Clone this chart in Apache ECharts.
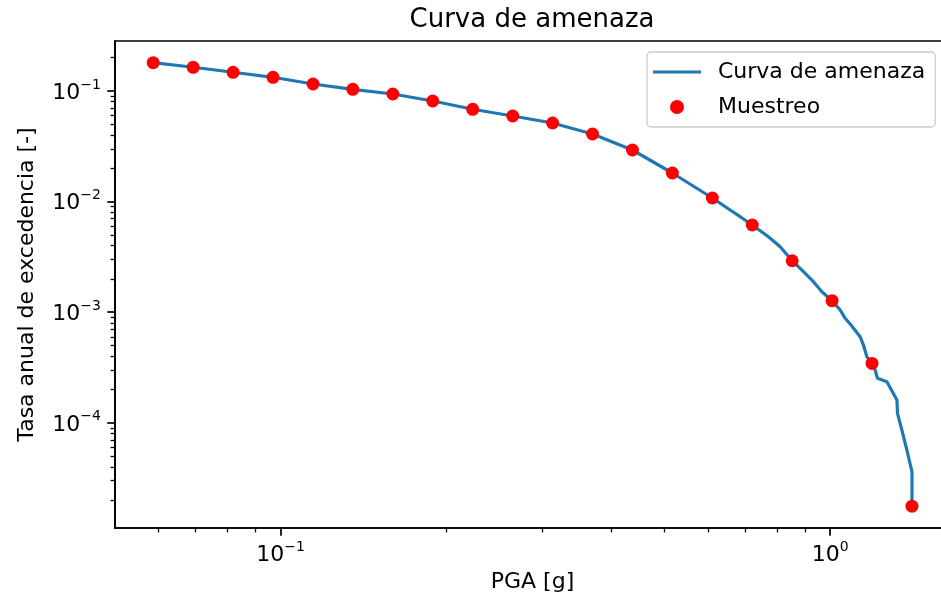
<!DOCTYPE html>
<html>
<head>
<meta charset="utf-8">
<title>Curva de amenaza</title>
<script src="https://cdn.jsdelivr.net/npm/echarts@6/dist/echarts.min.js"></script>
<style>
  html, body { margin: 0; padding: 0; background: #fff; overflow: hidden; }
  #chart { width: 970px; height: 601px; }
</style>
</head>
<body>
<div id="chart"></div>
<script>
'use strict';

// puntos de muestreo (marcadores rojos)
var pga  = [0.05867, 0.06937, 0.08198, 0.09692, 0.1146, 0.1354, 0.1601, 0.1892, 0.2237, 0.2645,
            0.3126, 0.3695, 0.4368, 0.5163, 0.6104, 0.7216, 0.8530, 1.0081, 1.1917, 1.4088];
var tasa = [0.1803, 0.1638, 0.1476, 0.1330, 0.1157, 0.1036, 0.09395, 0.08121, 0.06833, 0.05943,
            0.05136, 0.04087, 0.02927, 0.01814, 0.01078, 0.006142, 0.002921, 0.001271, 0.0003444, 0.00001765];

// curva de amenaza (linea azul)
var curvaPga  = [0.05867, 0.06937, 0.08198, 0.09692, 0.1146, 0.1354, 0.1601, 0.1892, 0.2237, 0.2645,
                 0.3126, 0.3695, 0.4368, 0.5163, 0.6104, 0.6577, 0.6859, 0.7216, 0.7722, 0.8110,
                 0.8530, 0.8819, 0.9324, 0.9658, 1.0081, 1.0428, 1.0649, 1.0874, 1.1339, 1.1497,
                 1.1662, 1.1917, 1.2074, 1.2191, 1.2683, 1.3226, 1.3259, 1.3504, 1.3790, 1.4088, 1.4088];
var curvaTasa = [0.1803, 0.1638, 0.1476, 0.1330, 0.1157, 0.1036, 0.09395, 0.08121, 0.06833, 0.05943,
                 0.05136, 0.04087, 0.02927, 0.01814, 0.01078, 0.008397, 0.007303, 0.006142, 0.004815, 0.003910,
                 0.002921, 0.002494, 0.001887, 0.001532, 0.001271, 0.001047, 0.0008809, 0.0007819, 0.0006005, 0.0005050,
                 0.0003959, 0.0003444, 0.0003001, 0.0002526, 0.0002352, 0.0001607, 0.0001219, 0.0000861, 0.0000568, 0.0000361, 0.00001765];

// ticks
var xMayor = [0.1, 1];
var xMenor = [0.06, 0.07, 0.08, 0.09, 0.2, 0.3, 0.4, 0.5, 0.6, 0.7, 0.8, 0.9];
var yMayor = [1e-4, 1e-3, 1e-2, 1e-1];
var yMenor = [2e-5, 3e-5, 4e-5, 5e-5, 6e-5, 7e-5, 8e-5, 9e-5,
              2e-4, 3e-4, 4e-4, 5e-4, 6e-4, 7e-4, 8e-4, 9e-4,
              2e-3, 3e-3, 4e-3, 5e-3, 6e-3, 7e-3, 8e-3, 9e-3,
              2e-2, 3e-2, 4e-2, 5e-2, 6e-2, 7e-2, 8e-2, 9e-2, 2e-1];

// el borde derecho del grafico queda fuera de la ventana (cortado en 941 px)
var xMin = 0.05, xMax = 1.652;
var yMin = 1.12e-5, yMax = 0.2831;

var fuente = 'DejaVu Sans';

function potencia(v) {
  var e = Math.round(Math.log(v) / Math.LN10);
  return '{b|10}{s|' + (e < 0 ? '\u2212' + (-e) : e) + '}';
}
var richPot = {
  b: { fontFamily: fuente, fontSize: 22, lineHeight: 26, color: '#000', verticalAlign: 'bottom' },
  s: { fontFamily: fuente, fontSize: 14, lineHeight: 20, color: '#000', verticalAlign: 'top' }
};

function pares(xs, ys) {
  var out = [];
  for (var i = 0; i < xs.length; i++) out.push([xs[i], ys[i]]);
  return out;
}

var myChart = echarts.init(document.getElementById('chart'), null, { renderer: 'canvas' });

var option = {
  animation: false,
  backgroundColor: '#fff',
  title: {
    text: 'Curva de amenaza',
    left: 532, top: 5, padding: 0,
    textAlign: 'center',
    textStyle: { fontFamily: fuente, fontSize: 26, fontWeight: 'normal', color: '#000', lineHeight: 30 }
  },
  legend: {
    orient: 'vertical',
    left: 647, top: 52,
    padding: [8, 10, 8, 6],
    itemWidth: 48, itemHeight: 14, itemGap: 11,
    backgroundColor: '#fff',
    borderColor: '#cccccc', borderWidth: 1.3, borderRadius: 4,
    textStyle: { fontFamily: fuente, fontSize: 22, lineHeight: 24, color: '#000', padding: [0, 0, 0, 12] },
    data: [
      { name: 'Curva de amenaza', icon: 'path://M0,0L48,0L48,3.2L0,3.2Z', itemStyle: { color: '#1f77b4' } },
      { name: 'Muestreo', icon: 'circle', itemStyle: { color: '#ff0000' } }
    ]
  },
  grid: {
    left: 115, right: 20, top: 41, bottom: 73,
    show: true, borderColor: '#000', borderWidth: 1.7,
    outerBoundsMode: 'none'
  },
  xAxis: [
    {
      type: 'log', logBase: 10, min: xMin, max: xMax, position: 'bottom',
      name: 'PGA [g]', nameLocation: 'middle', nameGap: 42,
      nameTextStyle: { fontFamily: fuente, fontSize: 22, color: '#000' },
      axisLine: { show: true, lineStyle: { color: '#000', width: 1.7 } },
      axisTick: { show: true, customValues: xMayor, length: 7.7, lineStyle: { color: '#000', width: 1.7 } },
      axisLabel: { customValues: xMayor, margin: 12, formatter: potencia, rich: richPot },
      splitLine: { show: false }, minorTick: { show: false }
    },
    {
      type: 'log', logBase: 10, min: xMin, max: xMax, position: 'bottom',
      axisLine: { show: false },
      axisTick: { show: true, customValues: xMenor, length: 4.4, lineStyle: { color: '#000', width: 1.3 } },
      axisLabel: { show: false },
      splitLine: { show: false }
    }
  ],
  yAxis: [
    {
      type: 'log', logBase: 10, min: yMin, max: yMax, position: 'left',
      name: 'Tasa anual de excedencia [-]', nameLocation: 'middle', nameGap: 77,
      nameTextStyle: { fontFamily: fuente, fontSize: 22, color: '#000' },
      axisLine: { show: true, lineStyle: { color: '#000', width: 1.7 } },
      axisTick: { show: true, customValues: yMayor, length: 7.7, lineStyle: { color: '#000', width: 1.7 } },
      axisLabel: { customValues: yMayor, margin: 14, formatter: potencia, rich: richPot },
      splitLine: { show: false }, minorTick: { show: false }
    },
    {
      type: 'log', logBase: 10, min: yMin, max: yMax, position: 'left',
      axisLine: { show: false },
      axisTick: { show: true, customValues: yMenor, length: 4.4, lineStyle: { color: '#000', width: 1.3 } },
      axisLabel: { show: false },
      splitLine: { show: false }
    }
  ],
  series: [
    {
      name: 'Curva de amenaza',
      type: 'line',
      xAxisIndex: 0, yAxisIndex: 0,
      data: pares(curvaPga, curvaTasa),
      symbol: 'none', showSymbol: false,
      lineStyle: { color: '#1f77b4', width: 3.2 },
      itemStyle: { color: '#1f77b4' },
      z: 2
    },
    {
      name: 'Muestreo',
      type: 'scatter',
      xAxisIndex: 0, yAxisIndex: 0,
      data: pares(pga, tasa),
      symbol: 'circle', symbolSize: 13,
      itemStyle: { color: '#ff0000', opacity: 1 },
      z: 3
    }
  ]
};

myChart.setOption(option);
window.onresize = myChart.resize;
</script>
</body>
</html>
